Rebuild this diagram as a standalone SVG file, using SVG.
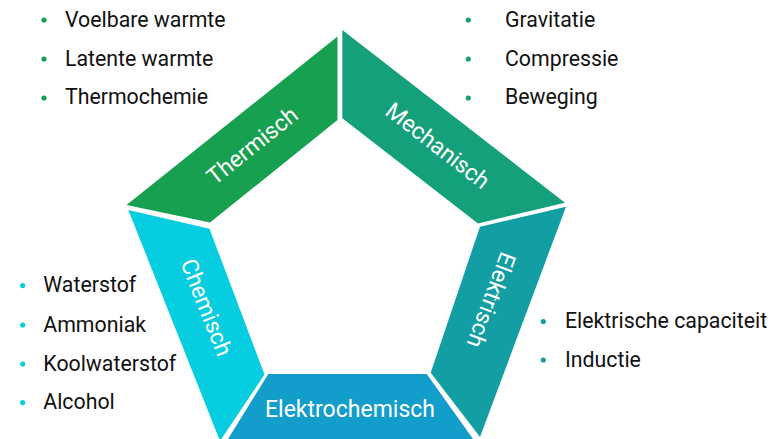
<svg xmlns="http://www.w3.org/2000/svg" width="772" height="439" viewBox="0 0 772 439">
<style>
.lbl{font-family:Roboto,"Liberation Sans",sans-serif;font-size:23px;fill:#ffffff;text-anchor:middle}
.item{font-family:Roboto,"Liberation Sans",sans-serif;font-size:21.3px;fill:#111111}
</style>
<rect width="772" height="439" fill="#ffffff"/>
<g id="thermisch">
<polygon points="337.5,36.5 337.5,120 210,222.5 126.5,205" fill="#17a04f"/>
<text class="lbl" transform="translate(252.5,146) rotate(-38.6)" y="7.5">Thermisch</text>
<g fill="#17a04f"><circle cx="44" cy="20" r="2.6"/><circle cx="44" cy="59" r="2.6"/><circle cx="44" cy="98" r="2.6"/></g>
<text class="item" x="65" y="26.7">Voelbare warmte</text>
<text class="item" x="65" y="65.7">Latente warmte</text>
<text class="item" x="65" y="104.3">Thermochemie</text>
</g>
<g id="mechanisch">
<polygon points="342.3,30 565,202.7 478,223.5 342.3,118.3" fill="#14a07b"/>
<text class="lbl" transform="translate(437.5,146) rotate(37.8)" y="7.5">Mechanisch</text>
<g fill="#14a07b"><circle cx="468.3" cy="20" r="2.6"/><circle cx="468.3" cy="59" r="2.6"/><circle cx="468.3" cy="98" r="2.6"/></g>
<text class="item" x="505" y="26.7">Gravitatie</text>
<text class="item" x="505" y="65.7">Compressie</text>
<text class="item" x="505" y="104.3">Beweging</text>
</g>
<g id="elektrisch">
<polygon points="566,206.7 480,226.7 430.7,372.7 480,437" fill="#139ea3"/>
<text class="lbl" transform="translate(490.8,300) rotate(110.5)" y="7.5">Elektrisch</text>
<g fill="#139ea3"><circle cx="543.3" cy="321.6" r="2.6"/><circle cx="543.3" cy="360" r="2.6"/></g>
<text class="item" x="565" y="328.3">Elektrische capaciteit</text>
<text class="item" x="565" y="366.7">Inductie</text>
</g>
<g id="elektrochemisch">
<polygon points="268.3,374 426.7,374 488,460 215,460" fill="#139dca"/>
<text class="lbl" x="350" y="416.7">Elektrochemisch</text>
</g>
<g id="chemisch">
<polygon points="128.3,210 209.5,228.8 264.5,374.5 220,441" fill="#07cde0"/>
<text class="lbl" transform="translate(206,307.5) rotate(68.3)" y="7.5">Chemisch</text>
<g fill="#07cde0"><circle cx="22.7" cy="285.6" r="2.6"/><circle cx="22.7" cy="325" r="2.6"/><circle cx="22.7" cy="364" r="2.6"/><circle cx="22.7" cy="402.6" r="2.6"/></g>
<text class="item" x="43.3" y="292.3">Waterstof</text>
<text class="item" x="43.3" y="331.7">Ammoniak</text>
<text class="item" x="43.3" y="370.7">Koolwaterstof</text>
<text class="item" x="43.3" y="409.3">Alcohol</text>
</g>
<g id="connectors"/>
</svg>
